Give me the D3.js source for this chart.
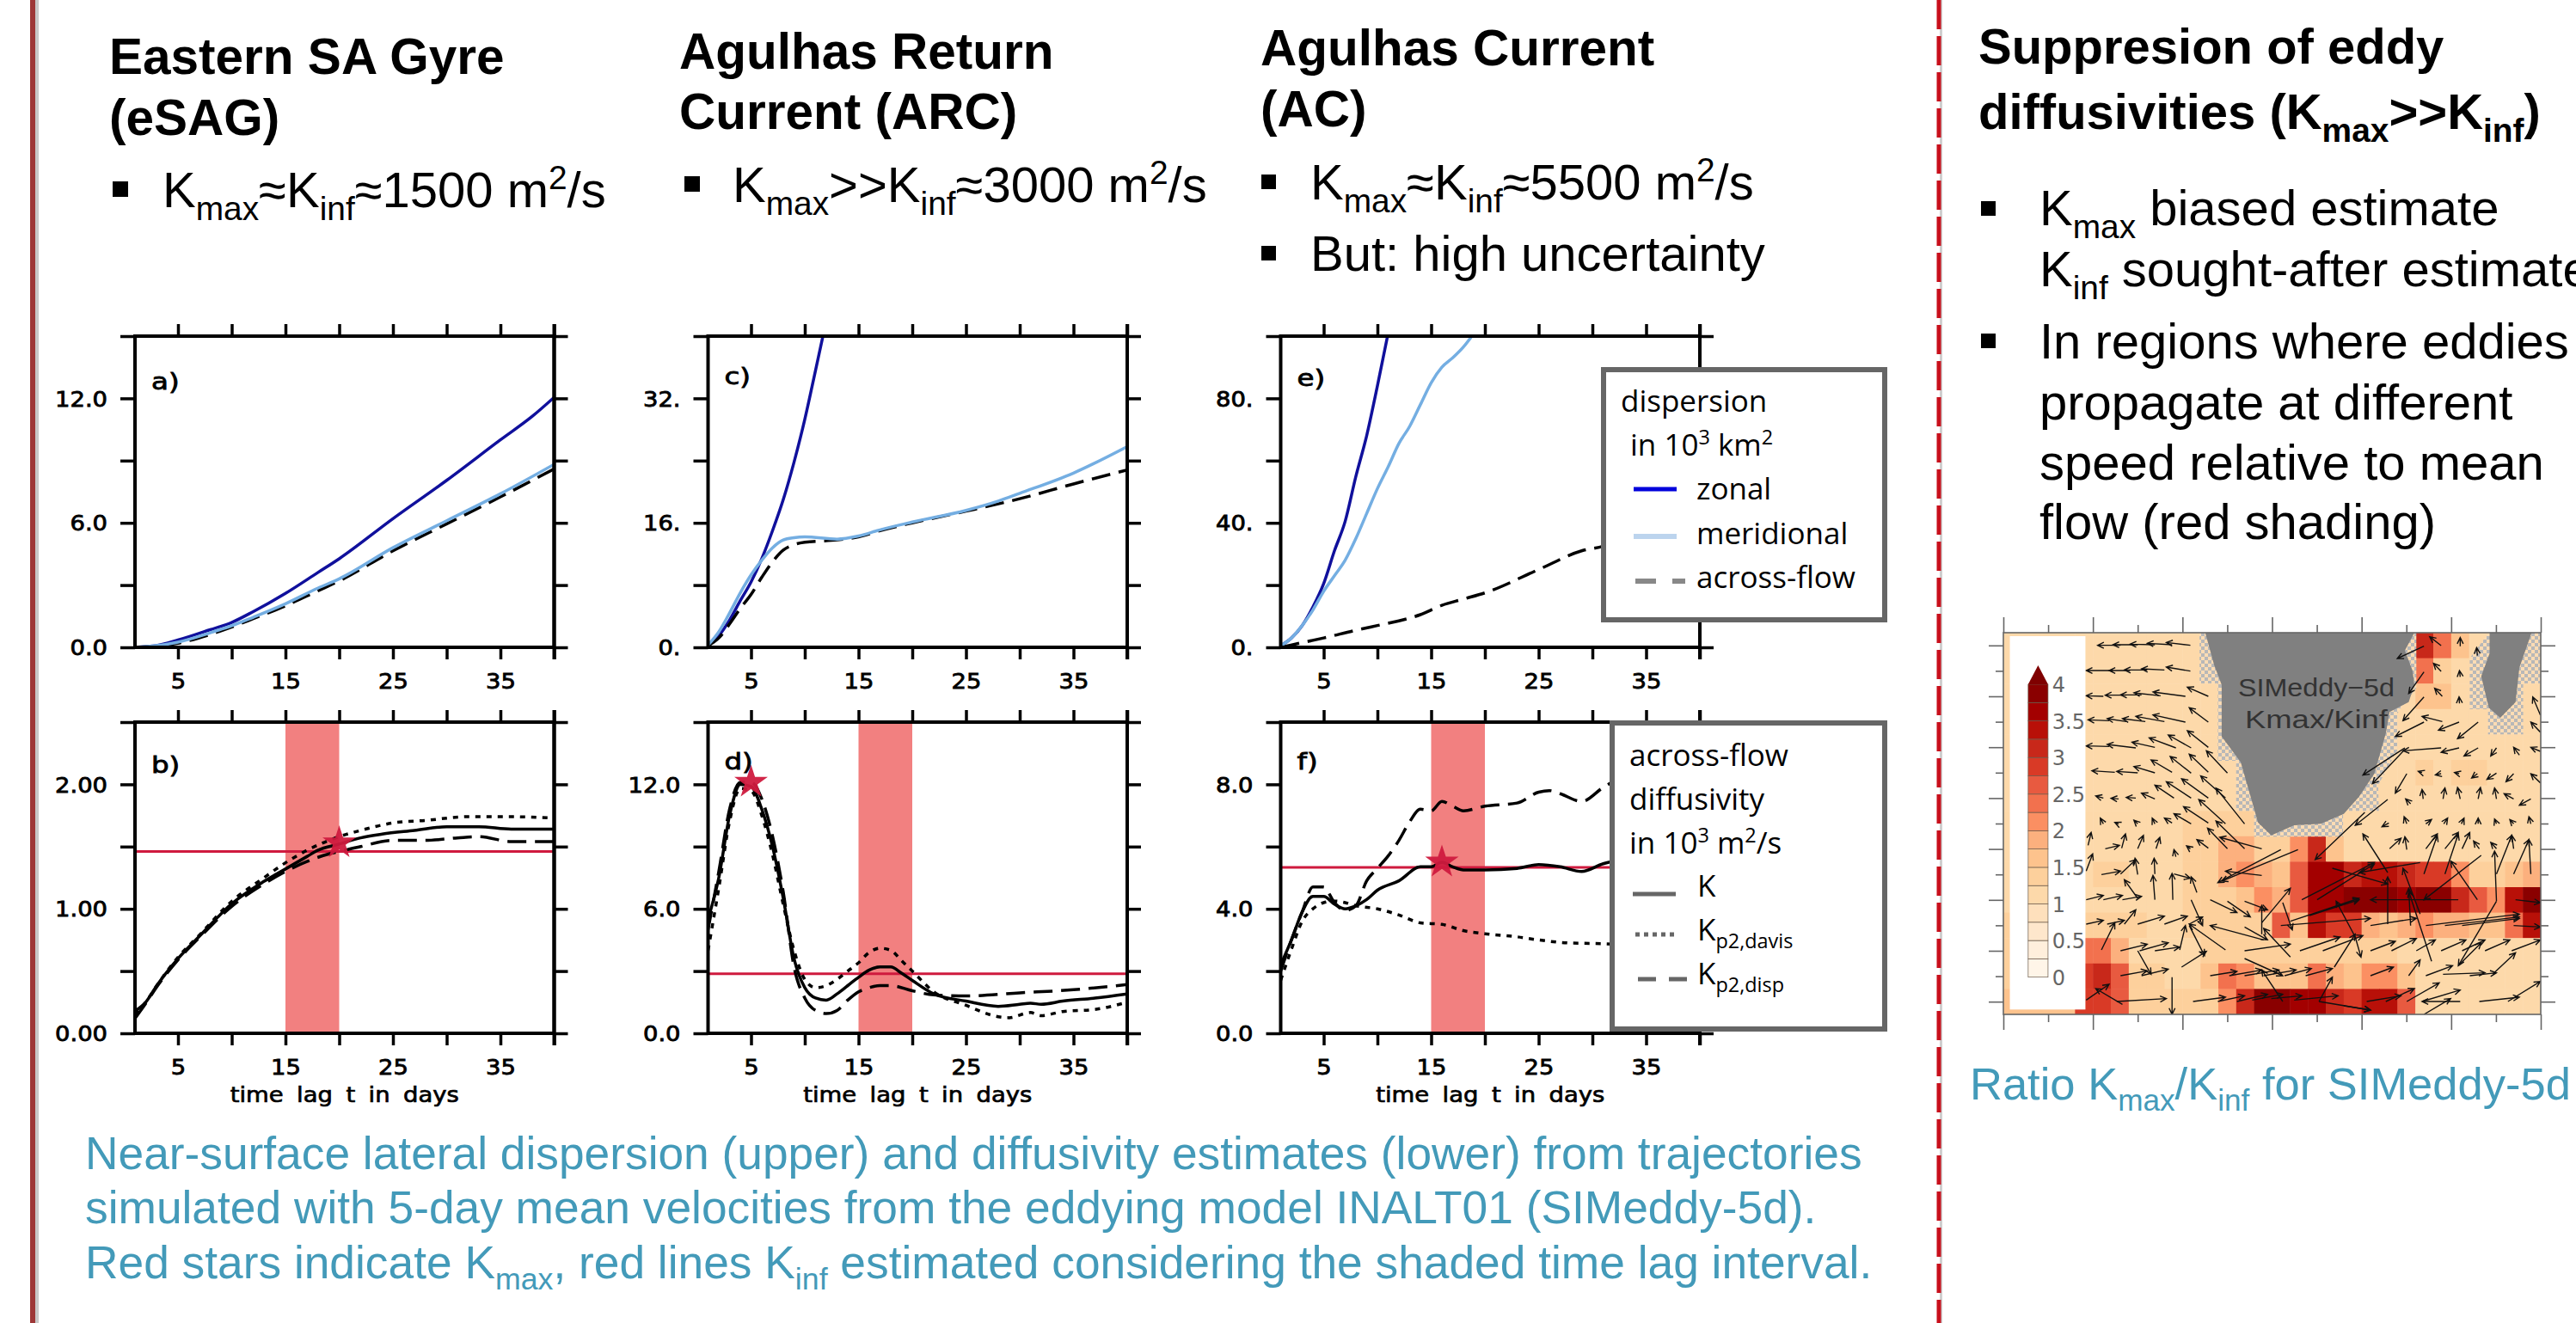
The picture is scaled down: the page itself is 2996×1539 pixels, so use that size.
<!DOCTYPE html>
<html><head><meta charset="utf-8">
<script src="https://cdn.jsdelivr.net/npm/d3@7"></script>
<style>html,body{margin:0;padding:0;background:#fff;overflow:hidden}svg{display:block}</style>
</head><body><svg id="c" width="2996" height="1539"></svg>
<script>
// ---------- series as [day, value] ----------
const aZonal=[[1,0],[3,.08],[5,.35],[8,.85],[10,1.2],[12,1.72],[15,2.6],[18,3.6],[20,4.27],[25,6.2],[30,8.05],[35,10],[38,11.15],[40,12.05]];
const aMerid=[[1,0],[3,.08],[5,.25],[8,.7],[10,1.04],[12,1.45],[15,2.1],[18,2.85],[20,3.3],[25,4.8],[30,6.1],[35,7.4],[40,8.82]];
const aAcross=[[1,0],[3,.05],[5,.2],[8,.62],[10,.98],[12,1.38],[15,2.0],[18,2.72],[20,3.2],[25,4.65],[30,5.95],[35,7.25],[40,8.6]];
const bK=[[1,.18],[2,.25],[3,.38],[5,.6],[7,.78],[10,1.04],[13,1.22],[15,1.32],[17,1.42],[18,1.47],[20,1.52],[22,1.57],[24,1.6],[27,1.63],[30,1.66],[33,1.66],[36,1.64],[40,1.64]];
const bDavis=[[1,.15],[2,.25],[3,.38],[5,.61],[7,.79],[10,1.06],[13,1.25],[15,1.37],[17,1.47],[20,1.58],[22,1.63],[25,1.69],[28,1.71],[32,1.74],[36,1.74],[40,1.73]];
const bDisp=[[1,.12],[2,.24],[3,.37],[5,.59],[7,.77],[10,1.02],[13,1.2],[15,1.3],[17,1.38],[19,1.44],[20,1.46],[22,1.5],[25,1.55],[28,1.55],[31,1.57],[33,1.58],[36,1.54],[40,1.54]];
const cZonal=[[1,.3],[2,1.5],[3,3.5],[4,6],[5,8.4],[6,11.4],[7,15],[8,19],[9,23.8],[10,29.3],[11,35.6],[12,42]];
const cMerid=[[1,.3],[2,2],[3,4.4],[4,7],[5,9.3],[6,11.2],[7,12.8],[8,13.8],[9,14.1],[10,14.2],[13,13.9],[15,14.3],[17,15.1],[20,16.1],[25,17.6],[28,18.8],[30,19.8],[35,22.4],[40,25.8]];
const cAcross=[[1,.2],[2,1.2],[3,3],[4,5],[5,6.8],[6,9],[7,11],[8,12.5],[9,13.2],[10,13.5],[13,13.8],[15,14.2],[17,15],[20,16],[25,17.5],[30,19.1],[35,21],[40,22.8]];
const dK=[[1,5.5],[2,7.5],[3,10.5],[4,12],[5,11.9],[6,10.8],[7,9],[8,6.5],[9,3.6],[10,2.2],[11,1.7],[12,1.6],[13,1.9],[14,2.3],[15,2.7],[16,3.05],[17,3.2],[18,3.2],[19,2.9],[20,2.55],[22,1.9],[25,1.55],[28,1.3],[30,1.4],[31,1.45],[32,1.4],[34,1.55],[37,1.7],[40,1.9]];
const dDavis=[[1,4],[2,7],[3,10.2],[4,11.8],[5,11.7],[6,10.5],[7,8.6],[8,6.2],[9,4],[10,2.6],[11,2.2],[12,2.3],[13,2.6],[14,3],[15,3.4],[16,3.9],[17,4.1],[18,4],[19,3.5],[20,3],[22,2],[25,1.35],[28,.8],[29,.75],[31,1],[32,.85],[34,1.05],[37,1.15],[40,1.5]];
const dDisp=[[1,5],[2,7.8],[3,10.8],[4,12.1],[5,12.1],[6,11.3],[7,9.5],[8,6.8],[9,3.2],[10,1.7],[11,1.1],[12,.95],[13,1.1],[14,1.6],[15,2],[16,2.2],[17,2.3],[18,2.3],[20,2.05],[22,1.85],[25,1.8],[30,1.95],[35,2.1],[40,2.35]];
const eZonal=[[1,.5],[2,3],[3,7],[4,13],[5,20.5],[6,31],[7,40.5],[8,55],[9,68],[10,84],[11,101]];
const eMerid=[[1,.5],[2,3],[3,7],[4,12],[5,18],[6,23],[7,28],[8,35],[9,43],[10,51],[11,58],[12,65.5],[13,71],[14,78],[15,85],[16,90],[17,93],[18,96.5],[19,101]];
const eAcross=[[1,0],[3,1.5],[5,3],[8,5.5],[10,7],[12,8.5],[14,10.5],[16,13.5],[18,15.5],[20,17.5],[25,25],[29,31],[31,32.5],[33,35]];
const fK=[[1,2.2],[2,3],[3,3.9],[4,4.4],[5,4.4],[6,4.15],[7,4],[8,4.1],[9,4.3],[10,4.6],[12,4.9],[14,5.35],[15,5.35],[16,5.5],[17,5.35],[18,5.25],[20,5.25],[23,5.3],[25,5.42],[27,5.35],[29,5.2],[31,5.45],[33,5.6]];
const fDavis=[[1,1.7],[2,2.7],[3,3.6],[4,4],[5,4.2],[6,4.25],[7,4.2],[8,4.1],[10,4],[12,3.8],[14,3.55],[16,3.5],[18,3.3],[20,3.2],[23,3.1],[25,3],[28,2.9],[31,2.88],[33,2.85]];
const fDisp=[[1,2],[2,3],[3,3.9],[4,4.7],[5,4.7],[6,4.2],[7,3.95],[8,4.1],[9,4.9],[10,5.3],[11,5.7],[12,6.2],[13,6.8],[14,7.2],[15,7.15],[16,7.45],[17,7.3],[18,7.15],[20,7.3],[23,7.4],[25,7.75],[26,7.8],[27,7.7],[29,7.45],[31,7.9],[33,8.3]];

const xMajor=[5,10,15,20,25,30,35,40], xLabelled=[5,15,25,35];
const yTicksA=[0,3,6,9,12,15], yLabA={0:"0.0",6:"6.0",12:"12.0"};
const yTicksB=[0,.5,1,1.5,2,2.5], yLabB={0:"0.00",1:"1.00",2:"2.00"};
const yTicksC=[0,8,16,24,32,40], yLabC={0:"0.",16:"16.",32:"32."};
const yTicksD=[0,3,6,9,12,15], yLabD={0:"0.0",6:"6.0",12:"12.0"};
const yTicksE=[0,20,40,60,80,100], yLabE={0:"0.",40:"40.",80:"80."};
const yTicksF=[0,2,4,6,8,10], yLabF={0:"0.0",4:"4.0",8:"8.0"};

// ---------- inset: Kmax/Kinf ratio, row by row, 30 columns x 15 rows ----------
const ratioRows=[
[1.25,1.25,1.25,1.25,1.25,1.25,1.25,1.25,1.25,1.25,1.25,1.25,1.25,1.25,1.25,1.25,1.25,1.25,1.25,1.25,1.25,1.25,1.25,3.1,2.5,1.75,1.25,1.25,1.25,1.25],
[1.25,1.25,1.25,1.25,1.25,1.25,1.25,1.25,1.25,1.25,1.25,1.25,1.25,1.25,1.25,1.25,1.25,1.25,1.25,1.25,1.25,1.25,1.25,2.5,1.5,1.25,1.25,1.25,1.25,1.25],
[1.25,1.25,1.25,1.25,1.25,1.25,1.25,1.25,1.25,1.25,1.25,1.25,1.25,1.25,1.25,1.25,1.25,1.25,1.25,1.25,1.25,1.25,1.25,1.6,1.6,1.25,1.25,1.25,1.25,1.25],
[1.25,1.25,1.25,1.25,1.25,1.25,1.25,1.25,1.25,1.25,1.25,1.25,1.25,1.25,1.25,1.25,1.25,1.25,1.25,1.25,1.25,1.25,1.25,1.25,1.25,1.25,1.25,1.25,1.25,1.25],
[1.25,1.25,1.25,1.25,1.25,1.25,1.25,1.25,1.25,1.25,1.25,1.25,1.25,1.25,1.25,1.25,1.25,1.25,1.25,1.25,1.25,1.25,1.25,1.25,1.25,1.25,1.25,1.25,1.25,1.25],
[1.25,1.25,1.25,1.25,1.25,1.25,1.25,1.25,1.25,1.25,1.25,1.25,1.25,1.25,1.25,1.25,1.25,1.25,1.25,1.25,1.25,1.25,1.25,1.45,1.25,1.45,1.45,1.25,1.25,1.25],
[1.25,1.25,1.25,1.25,1.25,1.25,1.25,1.25,1.25,1.25,1.25,1.25,1.25,1.25,1.25,1.25,1.25,1.25,1.25,1.25,1.25,1.25,1.25,1.25,1.25,1.25,1.25,1.25,1.25,1.25],
[1.25,1.25,1.25,1.25,1.25,1.25,1.25,1.25,1.25,1.25,1.45,1.45,1.45,1.5,1.5,1.25,1.25,1.25,1.25,1.25,1.25,1.25,1.25,1.25,1.25,1.25,1.25,1.25,1.25,1.25],
[1.25,1.25,1.25,1.25,1.25,1.25,1.25,1.25,1.25,1.25,1.45,1.45,1.9,1.9,1.45,1.45,2.25,3.25,1.75,1.25,1.25,1.25,1.25,1.25,1.25,1.25,1.25,1.25,1.25,1.25],
[1.25,1.25,1.25,1.25,1.25,1.45,1.45,1.25,1.25,1.25,1.45,1.45,1.9,2.25,1.9,1.75,2.75,3.75,3.75,3.25,3.5,3.5,3.25,3,3,2.25,1.5,1.5,1.75,1.9],
[1.25,1.25,1.25,1.25,1.25,1.25,1.25,1.25,1.25,1.25,1.45,1.45,1.5,1.75,2.25,2,2.75,3.75,3.75,4,4,4,3.75,4,4,3.25,2.75,2.25,3.5,4],
[1.45,1.45,1.45,1.45,1.45,1.45,1.45,1.45,1.25,1.25,1.45,1.45,1.45,1.45,1.45,2.75,1.75,3.5,3,3,1.9,1.75,1.9,2.25,2,2,1.75,1.75,2.5,3.5],
[1.45,1.45,1.45,1.45,2.5,2.5,1.9,1.25,1.25,1.25,1.25,1.5,1.5,1.5,1.5,1.5,1.5,1.5,1.5,1.5,1.5,1.5,1.25,1.25,1.25,1.25,1.25,1.25,1.25,1.25],
[1.45,1.45,1.45,1.45,3,3.25,2.75,1.5,1.5,1.25,1.25,1.75,2.5,2.25,1.75,1.75,1.75,2.5,2,1.75,2.25,2.25,1.75,1.25,1.25,1.25,1.25,1.25,1.25,1.25],
[1.75,1.75,1.75,1.75,3,3,2.75,1.5,1.5,1.5,1.5,1.5,2.25,3.25,4,4,3.75,3.75,3.25,3,3.5,3.5,2.75,1.25,1.25,1.25,1.25,1.25,1.25,1.25]];
const barLevels=[0,.25,.5,.75,1,1.25,1.5,1.75,2,2.25,2.5,2.75,3,3.25,3.5,3.75];
const barColors=["#fff5e8","#ffefdc","#fee7cc","#fee0bc","#fdd9aa","#fdd09c","#fdc38d","#fcb07e","#fb8f62","#f2714e","#e85a40","#d93a26","#c8281a","#b81008","#a30000","#8a0000"];
const barLabels=["0","0.5","1","1.5","2","2.5","3","3.5","4"];
const landAfrica=[[597,108],[1145,108],[1120,170],[1140,240],[1145,290],[1130,350],[1080,385],[1070,460],[1040,600],[1000,680],[960,740],[900,775],[830,780],[770,815],[735,770],[720,700],[690,560],[640,470],[640,290],[620,220]];
const landMadagascar=[[1342,108],[1452,108],[1420,230],[1410,350],[1370,405],[1340,370],[1320,260],[1342,180]];
const maskAfrica=[[582,108],[1150,108],[1150,300],[1100,390],[1100,520],[1050,640],[1052,730],[958,730],[958,820],[725,820],[725,730],[678,730],[678,555],[630,555],[630,285],[582,285]];
const maskMadagascar=[[1290,197],[1340,108],[1475,108],[1475,285],[1430,285],[1430,463],[1338,463],[1338,375],[1290,375]];
// eddy-flux arrows: tail x, tail y, head x, head y in the map's own units
const arrows=[
[375,152,315,152],[420,150,355,150],[465,150,400,148],[510,150,445,145],[558,152,495,142],
[355,240,285,240],[400,240,345,240],[445,238,385,238],[490,238,430,234],[558,242,495,228],
[330,330,285,328],[390,326,335,326],[430,325,375,325],[480,328,410,318],[545,330,460,315],[605,330,550,298],
[345,415,290,412],[390,418,340,408],[440,418,380,408],[490,418,415,400],[545,420,460,395],[605,420,555,370],
[345,505,285,503],[415,510,340,498],[465,508,405,490],[520,510,450,475],[560,510,500,465],[605,508,550,450],
[360,595,300,590],[420,597,365,592],[465,597,410,575],[510,595,455,552],[560,598,505,540],[605,595,555,532],[655,598,600,520],
[330,685,310,678],[370,688,350,686],[415,685,390,683],[465,688,430,668],[515,685,465,640],[560,685,495,628],[605,685,535,618],[650,685,585,608],
[330,775,322,755],[370,776,360,770],[420,775,410,762],[465,775,458,755],[510,772,490,755],[560,775,515,740],[605,772,540,715],[650,775,580,690],[700,775,625,650],
[290,850,298,805],[335,862,372,850],[378,860,388,810],[420,862,435,815],[468,862,478,822],[520,890,515,865],[558,862,548,852],[605,860,575,830],[655,862,603,790],[700,862,625,765],[745,862,635,822],
[285,940,302,880],[325,952,375,940],[375,950,415,900],[420,952,413,895],[465,950,463,895],[515,950,558,965],[575,1015,560,960],[795,865,630,980],[840,865,640,975],[745,955,650,940],
[465,1040,460,955],[512,1040,510,948],[420,1035,385,970],[285,1040,330,1025],[330,1040,380,1025],[380,1040,430,1028],
[285,1125,330,1112],[340,1125,385,1112],[385,1125,415,1075],[325,1215,360,1120],[420,1125,490,1097],[490,1125,550,1097],[555,1125,590,1100],[650,1215,555,1125],[560,1040,590,1130],[610,1040,680,1085],[655,1045,715,1100],[700,1045,760,1075],[745,1160,745,1060],[750,1180,610,1130],[700,1135,760,1180],[820,1240,750,1140],[745,1120,820,1000],[800,1050,825,1145],
[375,1218,445,1195],[425,1218,500,1190],[465,1218,530,1205],[535,1275,600,1220],[555,1130,595,1235],[420,1218,455,1300],[510,1310,510,1440],[530,1215,545,1130],[700,1218,820,1195],
[285,1390,345,1335],[380,1405,310,1350],[365,1395,495,1385],[375,1305,445,1288],[430,1305,500,1282],[610,1305,680,1290],[660,1305,745,1285],[700,1305,790,1285],[750,1305,835,1285],[805,1305,875,1280],[860,1305,930,1280],[700,1245,800,1305],[800,1395,745,1285],
[565,1395,650,1380],[630,1395,700,1375],[680,1395,760,1370],[720,1390,800,1370],[770,1385,850,1375],[830,1390,945,1375],[895,1395,930,1310],[895,1395,1030,1425],[960,1410,1030,1425],[1020,1395,1110,1375],[1070,1395,1145,1350],[1125,1395,1210,1330],[1165,1395,1265,1355],[1265,1395,1165,1395],[1315,1395,1420,1380],[1390,1395,1475,1325],[1175,1305,1245,1270],[1220,1300,1330,1295],[1290,1305,1360,1295],[1130,1305,1160,1250],[1030,1305,1090,1275],[1170,1440,1240,1385],
[1030,1218,1095,1185],[1085,1218,1150,1175],[1150,1218,1200,1180],[1215,1218,1280,1180],[1270,1218,1330,1180],[1330,1218,1395,1180],[1400,1218,1475,1180],[845,1218,950,1170],[905,1218,1010,1165],[1260,1270,1320,1190],[1350,1300,1410,1225],
[795,1130,1030,1105],[1030,1130,1150,1105],[1175,1130,1420,1090],[1225,1130,1420,1100],[1270,1130,1420,1105],[1405,1130,1475,1135],[1410,1040,1475,1050],[820,1115,1000,1035],[870,1095,1000,1040],[935,1275,990,1160],[990,1170,940,1045],[990,1170,1005,1240],
[850,1040,1040,910],[890,1040,1040,915],[1160,910,1000,945],[1310,1040,1240,905],[1170,950,1205,815],[1225,950,1260,810],[1360,950,1400,815],[1405,950,1445,830],[1450,950,1445,830],[1360,1045,1355,870],[1260,1040,1030,1040],[1320,885,1170,1040],[1075,945,1010,810],[1160,1090,1115,930],[1075,1125,1075,960],[1190,1255,1130,1010],[1360,1045,1260,1270],[1135,1130,1130,1000],[1015,735,885,900],[930,930,1075,985],
[1215,153,1185,122],[1170,155,1100,198],[1265,155,1265,125],[1310,188,1308,160],[1170,245,1130,320],[1215,243,1195,215],[1265,262,1263,240],[1170,332,1115,415],[1218,330,1198,302],[1263,355,1262,332],[1475,395,1455,332],
[1170,420,1095,470],[1218,418,1165,400],[1262,420,1208,448],[1312,420,1258,478],[1475,455,1450,420],[1120,510,1010,605],[1215,510,1115,520],[1262,510,1215,525],[1312,510,1275,538],[1360,510,1345,538],[1420,535,1405,508],[1475,522,1450,508],[1120,515,1035,635],[1125,600,1095,668],[1075,690,990,780],
[1165,596,1155,592],[1215,600,1200,604],[1262,600,1250,596],[1310,600,1295,615],[1360,598,1335,620],[1405,600,1385,628],[1475,632,1450,600],
[1135,705,1122,688],[1168,688,1165,655],[1220,688,1225,650],[1265,688,1258,648],[1312,688,1318,648],[1360,688,1355,650],[1405,688,1380,670],[1450,688,1420,710],
[1078,772,1060,785],[1125,775,1118,750],[1175,775,1190,760],[1222,775,1232,755],[1268,775,1275,755],[1312,775,1312,755],[1360,775,1355,758],[1405,775,1395,760],[1450,775,1445,750],
[1080,862,1110,825],[1125,865,1120,820],[1175,862,1205,810],[1225,862,1260,805],[1270,862,1290,805],[1315,862,1300,835],[1360,862,1345,840],[1405,862,1400,815]];

// ---------- text ----------
const headEsag=["Eastern SA Gyre","(eSAG)"], headArc=["Agulhas Return","Current (ARC)"], headAc=["Agulhas Current","(AC)"];
const noteEsag=["K",{sub:"max"},"≈K",{sub:"inf"},"≈1500 m",{sup:"2"},"/s"];
const noteArc=["K",{sub:"max"},">>K",{sub:"inf"},"≈3000 m",{sup:"2"},"/s"];
const noteAc=["K",{sub:"max"},"≈K",{sub:"inf"},"≈5500 m",{sup:"2"},"/s"];
const noteBut=["But: high uncertainty"];
const captionLines=["Near-surface lateral dispersion (upper) and diffusivity estimates (lower) from trajectories","simulated with 5-day mean velocities from the eddying model INALT01 (SIMeddy-5d).",["Red stars indicate K",{sub:"max"},", red lines K",{sub:"inf"}," estimated considering the shaded time lag interval."]];

// ---------- drawing ----------
const svg=d3.select("#c");
const AR="'Liberation Sans',Arial,sans-serif", NCL="'DejaVu Sans',sans-serif", LEG="'Open Sans',sans-serif";
const C={zonal:"#10109c",merid:"#74aee2",red:"#cf1a3e",shade:"#f28080",cap:"#439ab9"};

function rich(g,x,y,size,parts,o={}){
  const t=g.append("text").attr("x",x).attr("y",y).attr("font-family",o.font||AR).attr("font-size",size)
    .attr("font-weight",o.weight||"normal").attr("fill",o.fill||"#000");
  let dy=0;
  (Array.isArray(parts)?parts:[parts]).forEach(p=>{
    const ts=t.append("tspan");
    if(typeof p==="string"){ts.text(p).attr("dy",-dy);dy=0;}
    else if(p.sub){const d=size*.25;ts.text(p.sub).attr("font-size",size*.67).attr("dy",d-dy);dy=d;}
    else if(p.sup){const d=-size*.36;ts.text(p.sup).attr("font-size",size*.67).attr("dy",d-dy);dy=d;}
  });
  return t;
}

svg.append("rect").attr("width",2996).attr("height",1539).attr("fill","#fff");
svg.append("rect").attr("x",41).attr("y",0).attr("width",4).attr("height",1539).attr("fill","#c9c9c9");
svg.append("rect").attr("x",35).attr("y",0).attr("width",6).attr("height",1539).attr("fill","#9e3838");
svg.append("line").attr("x1",2257.5).attr("x2",2257.5).attr("y1",0).attr("y2",1539).attr("stroke","#cfcfcf").attr("stroke-width",3);
svg.append("line").attr("x1",2255).attr("x2",2255).attr("y1",0).attr("y2",1539).attr("stroke","#c8101c").attr("stroke-width",5).attr("stroke-dasharray","34 8");

const defs=svg.append("defs");
const SX=1.14;

function panel(o){
  const x=d3.scaleLinear().domain([1,40]).range([o.left,o.left+487.5]);
  const y=d3.scaleLinear().domain(o.yDomain).range([o.bottom,o.top]);
  const g=svg.append("g");
  const id="clip"+o.label[0];
  defs.append("clipPath").attr("id",id).append("rect").attr("x",o.left).attr("y",o.top).attr("width",487.5).attr("height",o.bottom-o.top);
  if(o.band) g.append("rect").attr("x",x(o.band[0])).attr("y",o.top).attr("width",x(o.band[1])-x(o.band[0])).attr("height",o.bottom-o.top).attr("fill",C.shade);
  if(o.kinf!==undefined) g.append("line").attr("x1",o.left).attr("x2",x(40)).attr("y1",y(o.kinf)).attr("y2",y(o.kinf)).attr("stroke",C.red).attr("stroke-width",3);
  const line=d3.line().x(d=>x(d[0])).y(d=>y(d[1])).curve(d3.curveMonotoneX);
  const pg=g.append("g").attr("clip-path",`url(#${id})`);
  o.series.forEach(s=>pg.append("path").datum(s.data).attr("d",line).attr("fill","none").attr("stroke",s.color||"#000")
     .attr("stroke-width",s.w||3.5).attr("stroke-dasharray",s.dash||null));
  if(o.star) g.append("path").attr("d",d3.symbol(d3.symbolStar,470)()).attr("transform",`translate(${x(o.star[0])},${y(o.star[1])})`).attr("fill",C.red).attr("opacity",.95);

  const sty=(a)=>{a.selectAll("path.domain").remove();a.selectAll("line").attr("stroke","#000").attr("stroke-width",3.5);};
  g.append("g").attr("transform",`translate(0,${o.bottom})`)
    .call(d3.axisBottom(x).tickValues(xMajor).tickSize(14).tickSizeOuter(0).tickFormat(d=>xLabelled.includes(d)?d:""))
    .call(sty).call(a=>a.selectAll("text").attr("font-family",NCL).attr("font-size",24).attr("fill","#000").attr("stroke","#000").attr("stroke-width",.8)
      .attr("y",48).attr("dy",0).attr("x",0).attr("transform",`scale(${SX},1)`));
  g.append("g").attr("transform",`translate(0,${o.top})`)
    .call(d3.axisTop(x).tickValues(xMajor).tickSize(14).tickSizeOuter(0).tickFormat("")).call(sty);
  g.append("g").attr("transform",`translate(${o.left},0)`)
    .call(d3.axisLeft(y).tickValues(o.yTicks).tickSize(17).tickSizeOuter(0).tickFormat(d=>o.yLab[d]||""))
    .call(sty).call(a=>a.selectAll("text").attr("font-family",NCL).attr("font-size",24).attr("fill","#000").attr("stroke","#000").attr("stroke-width",.8)
      .attr("x",-32/SX).attr("dy",".36em").attr("text-anchor","end").attr("transform",`scale(${SX},1)`));
  g.append("g").attr("transform",`translate(${x(40)},0)`)
    .call(d3.axisRight(y).tickValues(o.yTicks).tickSize(16).tickSizeOuter(0).tickFormat("")).call(sty);
  g.append("rect").attr("x",o.left).attr("y",o.top).attr("width",487.5).attr("height",o.bottom-o.top).attr("fill","none").attr("stroke","#000").attr("stroke-width",4);
  g.append("line").attr("x1",x(40)).attr("x2",x(40)).attr("y1",o.top-14).attr("y2",o.bottom+14).attr("stroke","#000").attr("stroke-width",4);
  g.append("text").text(o.label).attr("font-family",NCL).attr("font-size",26).attr("stroke","#000").attr("stroke-width",.8)
    .attr("transform",`translate(${o.left+19},${o.labelY}) scale(1.25,1)`);
  if(o.xTitle) g.append("text").text("time lag t in days").attr("font-family",NCL).attr("font-size",24.5).attr("text-anchor","middle")
    .attr("stroke","#000").attr("stroke-width",.7).attr("word-spacing",6).attr("transform",`translate(${x(20.5)},1282) scale(1.12,1)`);
}
const dashL="22 10", dotL="6 7";
const T1=391,B1=753,T2=840,B2=1202;
panel({left:157,top:T1,bottom:B1,yDomain:[0,15],yTicks:yTicksA,yLab:yLabA,label:"a)",labelY:453,
  series:[{data:aZonal,color:C.zonal},{data:aAcross,dash:dashL},{data:aMerid,color:C.merid}]});
panel({left:157,top:T2,bottom:B2,yDomain:[0,2.5],yTicks:yTicksB,yLab:yLabB,label:"b)",labelY:899,band:[15,20],kinf:1.46,star:[20,1.53],xTitle:true,
  series:[{data:bDavis,dash:dotL},{data:bDisp,dash:dashL},{data:bK}]});
panel({left:823.5,top:T1,bottom:B1,yDomain:[0,40],yTicks:yTicksC,yLab:yLabC,label:"c)",labelY:447,
  series:[{data:cZonal,color:C.zonal},{data:cAcross,dash:dashL},{data:cMerid,color:C.merid}]});
panel({left:823.5,top:T2,bottom:B2,yDomain:[0,15],yTicks:yTicksD,yLab:yLabD,label:"d)",labelY:895,band:[15,20],kinf:2.87,star:[5,12.1],xTitle:true,
  series:[{data:dDavis,dash:dotL},{data:dDisp,dash:dashL},{data:dK}]});
panel({left:1489.5,top:T1,bottom:B1,yDomain:[0,100],yTicks:yTicksE,yLab:yLabE,label:"e)",labelY:449,
  series:[{data:eZonal,color:C.zonal},{data:eAcross,dash:dashL},{data:eMerid,color:C.merid}]});
panel({left:1489.5,top:T2,bottom:B2,yDomain:[0,10],yTicks:yTicksF,yLab:yLabF,label:"f)",labelY:895,band:[15,20],kinf:5.33,star:[16,5.5],xTitle:true,
  series:[{data:fDavis,dash:dotL},{data:fDisp,dash:dashL},{data:fK}]});

// legends
function box(x,y,w,h){svg.append("rect").attr("x",x).attr("y",y).attr("width",w).attr("height",h).attr("fill","#fff").attr("stroke","#666").attr("stroke-width",6);}
const LS=35;
box(1865,430,327,291);
rich(svg,1885,479,LS,["dispersion"],{font:LEG});
rich(svg,1896,530,LS,["in 10",{sup:"3"}," km",{sup:"2"}],{font:LEG});
rich(svg,1973,581,LS,["zonal"],{font:LEG});
rich(svg,1973,633,LS,["meridional"],{font:LEG});
rich(svg,1973,684,LS,["across-flow"],{font:LEG});
svg.append("line").attr("x1",1900).attr("x2",1950).attr("y1",569).attr("y2",569).attr("stroke","#0000dc").attr("stroke-width",5);
svg.append("line").attr("x1",1900).attr("x2",1950).attr("y1",624).attr("y2",624).attr("stroke","#bcd4ee").attr("stroke-width",6);
svg.append("line").attr("x1",1902).attr("x2",1960).attr("y1",676).attr("y2",676).attr("stroke","#888").attr("stroke-width",6).attr("stroke-dasharray","24 19");
box(1875,841,317,356);
rich(svg,1895,891,LS,["across-flow"],{font:LEG});
rich(svg,1895,942,LS,["diffusivity"],{font:LEG});
rich(svg,1895,993,LS,["in 10",{sup:"3"}," m",{sup:"2"},"/s"],{font:LEG});
rich(svg,1974,1043,LS,["K"],{font:LEG});
rich(svg,1974,1094,LS,["K",{sub:"p2,davis"}],{font:LEG});
rich(svg,1974,1145,LS,["K",{sub:"p2,disp"}],{font:LEG});
svg.append("line").attr("x1",1899).attr("x2",1949).attr("y1",1040).attr("y2",1040).attr("stroke","#666").attr("stroke-width",5);
svg.append("line").attr("x1",1902).attr("x2",1951).attr("y1",1087).attr("y2",1087).attr("stroke","#666").attr("stroke-width",5).attr("stroke-dasharray","5 5");
svg.append("line").attr("x1",1905).attr("x2",1964).attr("y1",1139).attr("y2",1139).attr("stroke","#666").attr("stroke-width",5).attr("stroke-dasharray","21 15");

// headings and bullets
function bullet(x,y,s){svg.append("rect").attr("x",x).attr("y",y).attr("width",s).attr("height",s).attr("fill","#000");}
const HS=58.5, NS=58;
headEsag.forEach((t,i)=>rich(svg,127,[86,157][i],HS,t,{weight:"bold"}));
headArc.forEach((t,i)=>rich(svg,790,[80,150][i],HS,t,{weight:"bold"}));
headAc.forEach((t,i)=>rich(svg,1466,[76,147][i],HS,t,{weight:"bold"}));
bullet(131,211,18); rich(svg,189,241,NS,noteEsag);
bullet(796,205,18); rich(svg,852,235,NS,noteArc);
bullet(1467,203,17); rich(svg,1524,232,NS,noteAc);
bullet(1467,286,17); rich(svg,1524,315,NS,noteBut);

const RS=58;
rich(svg,2301,74,RS,["Suppresion of eddy"],{weight:"bold"});
rich(svg,2301,150,RS,["diffusivities (K",{sub:"max"},">>K",{sub:"inf"},")"],{weight:"bold"});
bullet(2304,234,17); rich(svg,2372,262,RS,["K",{sub:"max"}," biased estimate"]);
rich(svg,2372,333,RS,["K",{sub:"inf"}," sought-after estimate"]);
bullet(2304,388,17);
["In regions where eddies","propagate at different","speed relative to mean","flow (red shading)"].forEach((t,i)=>rich(svg,2372,[417,487.5,558,627][i],RS,t));

captionLines.forEach((t,i)=>rich(svg,99,[1360,1423,1487][i],53.3,t,{fill:C.cap}));
rich(svg,2291,1279,52.5,["Ratio K",{sub:"max"},"/K",{sub:"inf"}," for SIMeddy-5d"],{fill:C.cap});

// ---------- inset map ----------
const TOPM=736,BOTM=1180;
const mx=d3.scaleLinear().domain([68,1476]).range([2330,2955]);
const my=d3.scaleLinear().domain([108,1440]).range([TOPM,BOTM]);
const colX=d3.scaleLinear().domain([0,30]).range([2330,2955]);
const rowY=d3.scaleLinear().domain([0,15]).range([TOPM,BOTM]);
const ratioColor=d3.scaleThreshold().domain([.25,.5,.75,1,1.2501,1.5001,1.7501,2.0001,2.2501,2.5001,2.7501,3.0001,3.2501,3.5001,3.7501]).range(barColors);
const m=svg.append("g");
defs.append("clipPath").attr("id","mapclip").append("rect").attr("x",2330).attr("y",TOPM).attr("width",625).attr("height",BOTM-TOPM);
const pat=defs.append("pattern").attr("id","chk").attr("width",8).attr("height",8).attr("patternUnits","userSpaceOnUse");
pat.append("rect").attr("width",8).attr("height",8).attr("fill","#fcdcb4");
pat.append("rect").attr("width",4).attr("height",4).attr("fill","#b8b8b8");
pat.append("rect").attr("x",4).attr("y",4).attr("width",4).attr("height",4).attr("fill","#b8b8b8");
const cellsG=m.append("g").attr("clip-path","url(#mapclip)");
ratioRows.forEach((row,r)=>row.forEach((v,c)=>cellsG.append("rect").attr("x",colX(c)).attr("y",rowY(r)).attr("width",colX(1)-colX(0)+.5).attr("height",rowY(1)-rowY(0)+.5).attr("fill",ratioColor(v))));
const poly=d3.line().x(d=>mx(d[0])).y(d=>my(d[1])).curve(d3.curveLinearClosed);
[maskAfrica,maskMadagascar].forEach(p=>cellsG.append("path").attr("d",poly(p)).attr("fill","url(#chk)"));
[landAfrica,landMadagascar].forEach(p=>cellsG.append("path").attr("d",poly(p)).attr("fill","#808080"));
arrows.forEach(a=>{
  const x1=mx(a[0]),y1=my(a[1]),x2=mx(a[2]),y2=my(a[3]);
  const ang=Math.atan2(y2-y1,x2-x1),h=8;
  cellsG.append("path").attr("d",`M${x1},${y1}L${x2},${y2}M${x2-h*Math.cos(ang-.45)},${y2-h*Math.sin(ang-.45)}L${x2},${y2}L${x2-h*Math.cos(ang+.45)},${y2-h*Math.sin(ang+.45)}`)
   .attr("fill","none").attr("stroke","#111").attr("stroke-width",1.4);
});
m.append("text").text("SIMeddy−5d").attr("x",mx(888)).attr("y",my(330)).attr("font-family",AR).attr("font-size",30).attr("text-anchor","middle").attr("textLength",182).attr("lengthAdjust","spacingAndGlyphs").attr("fill","#333");
m.append("text").text("Kmax/Kinf").attr("x",mx(888)).attr("y",my(440)).attr("font-family",AR).attr("font-size",30).attr("text-anchor","middle").attr("textLength",166).attr("lengthAdjust","spacingAndGlyphs").attr("fill","#333");

// white key panel and colour bar
m.append("rect").attr("x",mx(85)).attr("y",my(120)).attr("width",mx(283)-mx(85)).attr("height",my(1423)-my(120)).attr("fill","#fff");
const barY=d3.scaleLinear().domain([0,4]).range([my(1310),my(288)]);
const bx0=mx(133),bw=mx(185)-mx(133);
barLevels.forEach((v,i)=>m.append("rect").attr("x",bx0).attr("y",barY(v+.25)).attr("width",bw).attr("height",barY(v)-barY(v+.25)).attr("fill",barColors[i]).attr("stroke","#6b5a4a").attr("stroke-width",.7));
m.append("path").attr("d",`M${bx0},${barY(4)}L${bx0+bw/2},${my(222)}L${bx0+bw},${barY(4)}Z`).attr("fill","#7f0000");
barLabels.forEach((t,i)=>m.append("text").text(t).attr("x",mx(196)).attr("y",barY(i*.5)+9).attr("font-family",NCL).attr("font-size",24).attr("fill","#666"));

// frame ticks through d3 axes
const frameX=d3.scaleLinear().domain([0,12]).range([2330,2955]);
const frameY=d3.scaleLinear().domain([0,30]).range([TOPM,BOTM]);
const fmt=s=>s.call(a=>a.select("path.domain").remove()).call(a=>a.selectAll("line").attr("stroke","#666").attr("stroke-width",1.6));
const majX=[0,2,4,6,8,10,12],minX=[1,3,5,7,9,11];
const rowLong=[1,5,9,13,17,21,25,29],rowShort=[3,7,11,15,19,23,27];
[[d3.axisTop,TOPM],[d3.axisBottom,BOTM]].forEach(([ax,yy])=>{
  m.append("g").attr("transform",`translate(0,${yy})`).call(ax(frameX).tickValues(majX).tickSize(18).tickFormat("")).call(fmt);
  m.append("g").attr("transform",`translate(0,${yy})`).call(ax(frameX).tickValues(minX).tickSize(9).tickFormat("")).call(fmt);
});
[[d3.axisLeft,2330],[d3.axisRight,2955]].forEach(([ax,xx])=>{
  m.append("g").attr("transform",`translate(${xx},0)`).call(ax(frameY).tickValues(rowLong).tickSize(17).tickFormat("")).call(fmt);
  m.append("g").attr("transform",`translate(${xx},0)`).call(ax(frameY).tickValues(rowShort).tickSize(9).tickFormat("")).call(fmt);
});
m.append("rect").attr("x",2330).attr("y",TOPM).attr("width",625).attr("height",BOTM-TOPM).attr("fill","none").attr("stroke","#666").attr("stroke-width",1.6);
</script></body></html>
